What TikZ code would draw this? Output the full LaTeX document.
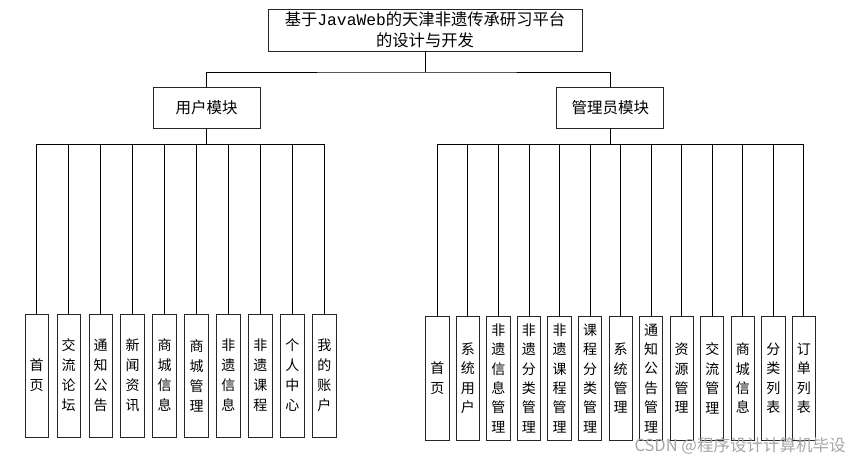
\documentclass[tikz,border=0pt]{standalone}
\usepackage{fontspec}
\setmainfont{Noto Sans CJK SC}
\newfontfamily\monof{Liberation Mono}
\begin{document}
\begin{tikzpicture}[x=1pt,y=-1pt,
  box/.style={draw=black!85, line width=0.9pt, fill=white, inner sep=0pt},
  leaf/.style={box, minimum width=23.3pt, minimum height=123pt, align=center,
    font=\fontsize{14}{20}\selectfont},
  rleaf/.style={box, minimum width=23.3pt, minimum height=123.3pt, align=center,
    font=\fontsize{14}{19.4}\selectfont},
  modbox/.style={box, minimum width=107pt, minimum height=41pt, font=\fontsize{15.5}{18}\selectfont},
  conn/.style={draw=black, line width=0.9pt}]
\useasboundingbox (0,0) rectangle (851,461);

\node[box, minimum width=314pt, minimum height=42pt, align=center,
  font=\fontsize{16.3}{21}\selectfont] (top) at (425,30)
  {基于{\monof JavaWeb}的天津非遗传承研习平台\\的设计与开发};

\node[modbox] (mu) at (206.5,107.8) {用户模块};
\node[modbox] (ma) at (610.3,107.5) {管理员模块};

\coordinate (j) at (top.south |- 0,72);
\draw[conn] (top.south) -- (j);
\draw[conn] (mu.north) |- (j) -| (ma.north);

% user leaves
\foreach \t [count=\i from 0] in {首\\页, 交\\流\\论\\坛, 通\\知\\公\\告, 新\\闻\\资\\讯,
  商\\城\\信\\息, 商\\城\\管\\理, 非\\遗\\信\\息, 非\\遗\\课\\程, 个\\人\\中\\心, 我\\的\\账\\户}{
  \node[leaf] (u\i) at ({36.7+31.96*\i},375.5) {\t};
  \draw[conn] (u\i.north) |- (mu.south |- 0,144);
}
\draw[conn] (mu.south) -- (mu.south |- 0,144);

% admin leaves
\foreach \t [count=\i from 0] in {首\\页, 系\\统\\用\\户, 非\\遗\\信\\息\\管\\理, 非\\遗\\分\\类\\管\\理,
  非\\遗\\课\\程\\管\\理, 课\\程\\分\\类\\管\\理, 系\\统\\管\\理, 通\\知\\公\\告\\管\\理,
  资\\源\\管\\理, 交\\流\\管\\理, 商\\城\\信\\息, 分\\类\\列\\表, 订\\单\\列\\表}{
  \node[rleaf] (a\i) at ({437.3+30.55*\i},378.3) {\t};
  \draw[conn] (a\i.north) |- (ma.south |- 0,144.7);
}
\draw[conn] (ma.south) -- (ma.south |- 0,144.7);

\node[text=black!35, font=\fontsize{16.5}{19}\selectfont, inner sep=0pt] (wm) at (740,446)
  {CSDN @程序设计计算机毕设};
\end{tikzpicture}
\end{document}
